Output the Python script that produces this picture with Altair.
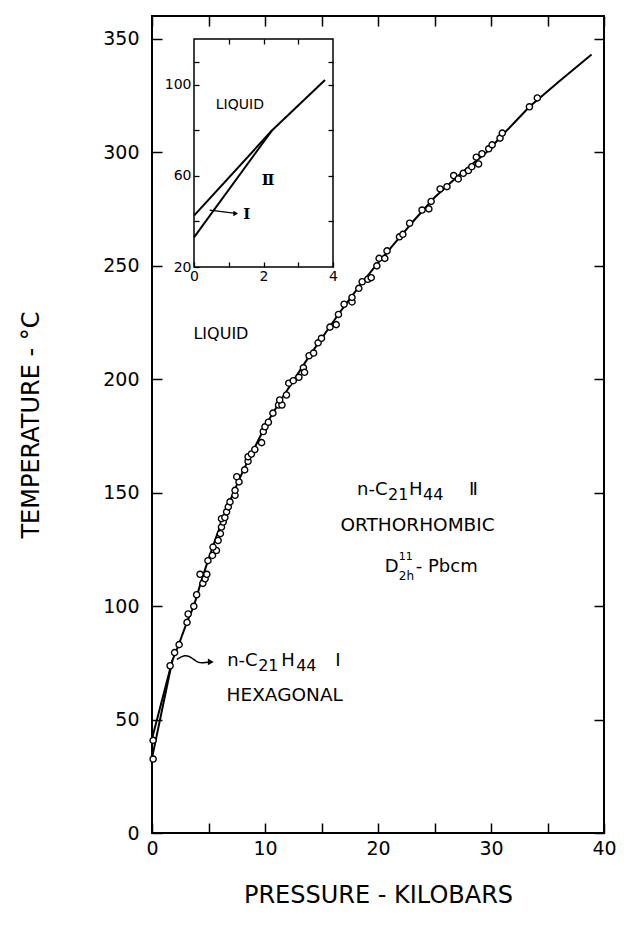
import altair as alt
import pandas as pd

# ---------------- data ----------------
# observed melting points (pressure kbar, temperature C)
pt_p = [0.1, 0.1, 1.6, 2.0, 2.4, 3.1, 3.2, 3.7, 3.95, 4.5, 4.7, 4.25, 4.85, 4.95,
        5.35, 5.7, 5.4, 5.85, 6.05, 6.15, 6.3, 6.15, 6.45, 6.6, 6.75, 6.9, 7.35, 7.35, 7.7, 7.5,
        8.2, 8.5, 8.5, 8.8, 9.1, 9.7, 9.85, 10.0, 10.3,
        10.7, 11.2, 11.5, 11.3, 11.9, 12.1, 12.5, 13.0, 13.4, 13.5, 13.9, 14.3, 14.7, 15.0, 15.75, 16.3,
        16.5, 17.0, 17.7, 17.7, 18.3, 18.6, 19.1, 19.4, 19.9, 20.1, 20.6, 20.8, 21.9, 22.2, 22.8,
        23.9, 24.5, 24.7, 25.5, 26.1, 26.7, 27.1, 27.55, 28.0, 28.3, 28.9, 28.7, 29.2, 29.8, 30.1,
        30.8, 31.0, 33.4, 34.1]
pt_t = [40.8, 32.6, 73.7, 79.5, 83.0, 92.8, 96.5, 99.9, 105.0, 110.0, 112.0, 114.0, 114.0, 120.0,
        122.3, 124.5, 126.0, 128.9, 131.9, 134.8, 137.0, 138.5, 139.0, 141.5, 143.7, 145.9, 148.8, 151.0, 154.7, 157.0,
        160.0, 163.8, 165.8, 167.0, 169.0, 172.0, 176.9, 179.0, 181.0,
        185.0, 188.6, 188.6, 190.8, 193.0, 198.2, 199.3, 200.8, 205.0, 203.0, 210.3, 211.5, 216.0, 218.0, 222.9, 224.0,
        228.5, 233.0, 234.0, 236.0, 240.0, 242.9, 244.0, 244.7, 249.9, 253.2, 253.2, 256.5, 262.7, 263.8, 268.7,
        274.5, 275.0, 278.3, 283.8, 284.8, 289.7, 288.2, 290.7, 291.9, 293.6, 294.8, 297.8, 299.3, 301.5, 303.2,
        306.2, 308.4, 320.0, 323.9]

# phase boundaries (main plot)
melt_p = [1.8, 2.4, 3.1, 3.7, 4.3, 4.95, 5.65, 6.4, 7.2, 8.1, 9.1, 10.1, 11.3, 12.6, 13.9, 15.3,
          16.7, 18.2, 19.8, 21.5, 23.2, 25.0, 27.2, 29.6, 31.1, 33.4, 36.1, 38.9]
melt_t = [76.0, 83.5, 93.0, 100.0, 110.0, 120.0, 130.0, 140.0, 150.0, 160.0, 170.0, 180.0, 190.0, 200.0, 210.0, 220.0,
          230.0, 240.0, 250.0, 260.0, 270.0, 280.0, 290.0, 300.0, 308.0, 320.0, 331.5, 343.0]
liq_i_p = [0.0, 1.8]
liq_i_t = [41.5, 76.0]
i_ii_p = [0.0, 1.8]
i_ii_t = [33.0, 76.0]
arrow_p = [2.2, 2.9, 3.5, 4.1, 4.8, 5.2]
arrow_t = [76.5, 78.6, 77.5, 74.6, 75.2, 75.4]

# inset (low pressure detail)
inset_x_dom = [0, 4]
inset_y_dom = [20, 120]
in_liq_i_p = [0.0, 2.25]
in_liq_i_t = [42.5, 80.0]
in_i_ii_p = [0.0, 2.25]
in_i_ii_t = [33.0, 80.0]
in_melt_p = [2.25, 3.77]
in_melt_t = [80.0, 102.0]
in_arrow_p = [0.45, 1.2]
in_arrow_t = [44.9, 43.5]

# annotations (main): text pieces, anchor position (kbar, C)
ann_text = ["LIQUID",
            "n-C", "21", "H", "44", "\u2161",
            "ORTHORHOMBIC",
            "D", "11", "2h", "- Pbcm",
            "n-C", "21", "H", "44", "\u2160",
            "HEXAGONAL"]
ann_p = [6.1,
         18.15, 18.15, 18.15, 18.15, 18.15,
         23.5,
         20.6, 20.6, 20.6, 20.6,
         6.65, 6.65, 6.65, 6.65, 6.65,
         6.6]
ann_t = [220.0,
         151.0, 151.0, 151.0, 151.0, 151.0,
         135.6,
         117.3, 117.3, 117.3, 117.3,
         76.0, 76.0, 76.0, 76.0, 76.0,
         61.0]
# annotations (inset)
in_ann_text = ["LIQUID", "\u2161", "\u2160"]
in_ann_p = [1.32, 2.13, 1.42]
in_ann_t = [91.2, 58.0, 43.4]

# ---------------- layout ----------------
W, H = 452, 817
FONT = "DejaVu Sans"
main_x = alt.Scale(domain=[0, 40], nice=False, zero=False)
main_y = alt.Scale(domain=[0, 360], nice=False, zero=False)
in_x = alt.Scale(domain=inset_x_dom, range=[42, 181], nice=False, zero=False)
in_y = alt.Scale(domain=inset_y_dom, range=[251, 23], nice=False, zero=False)

pts = pd.DataFrame({"P": pt_p, "T": pt_t})


def lines_df(series):
    rows = []
    for name, ps, ts in series:
        for i, (p, t) in enumerate(zip(ps, ts)):
            rows.append({"s": name, "i": i, "P": p, "T": t})
    return pd.DataFrame(rows)


main_lines = lines_df([("melt", melt_p, melt_t), ("li", liq_i_p, liq_i_t), ("i2", i_ii_p, i_ii_t)])
inset_lines = lines_df([("melt", in_melt_p, in_melt_t), ("li", in_liq_i_p, in_liq_i_t),
                        ("i2", in_i_ii_p, in_i_ii_t)])


def X(sc, axis=None, field="P"):
    return alt.X(f"{field}:Q", scale=sc, axis=axis)


def Y(sc, axis=None, field="T"):
    return alt.Y(f"{field}:Q", scale=sc, axis=axis)


layers = []

# main boundary lines
layers.append(alt.Chart(main_lines).mark_line(color="black", strokeWidth=2).encode(
    x=X(main_x), y=Y(main_y), detail="s:N", order="i:Q"))
# arrow
layers.append(alt.Chart(pd.DataFrame({"P": arrow_p, "T": arrow_t, "i": range(len(arrow_p))}))
              .mark_line(color="black", strokeWidth=1.5, interpolate="basis")
              .encode(x=X(main_x), y=Y(main_y), order="i:Q"))
layers.append(alt.Chart(pd.DataFrame({"P": arrow_p[-1:], "T": arrow_t[-1:]}))
              .mark_point(shape="triangle-right", filled=True, color="black", size=45, opacity=1)
              .encode(x=X(main_x), y=Y(main_y)))
# data points
layers.append(alt.Chart(pts).mark_point(shape="circle", filled=True, fill="white", stroke="black",
                                        strokeWidth=1.4, size=38, opacity=1)
              .encode(x=X(main_x), y=Y(main_y)))

# main text annotations
ann_style = [
    dict(fontSize=16, align="center"),
    dict(fontSize=18, align="left"),
    dict(fontSize=16, align="left", dx=31, dy=5),
    dict(fontSize=18, align="left", dx=52),
    dict(fontSize=16, align="left", dx=66, dy=5),
    dict(fontSize=18, align="left", dx=112),
    dict(fontSize=18.5, align="center"),
    dict(fontSize=18, align="left"),
    dict(fontSize=11, align="left", dx=14, dy=-10),
    dict(fontSize=12, align="left", dx=14, dy=9),
    dict(fontSize=18, align="left", dx=31),
    dict(fontSize=18, align="left"),
    dict(fontSize=16, align="left", dx=31, dy=5),
    dict(fontSize=18, align="left", dx=54),
    dict(fontSize=16, align="left", dx=69, dy=5),
    dict(fontSize=18, align="left", dx=108),
    dict(fontSize=18.5, align="left"),
]
for txt, p, t, st in zip(ann_text, ann_p, ann_t, ann_style):
    layers.append(alt.Chart(pd.DataFrame({"P": [p], "T": [t], "label": [txt]}))
                  .mark_text(font=FONT, color="black", baseline="middle", **st)
                  .encode(x=X(main_x), y=Y(main_y), text="label:N"))

# main axes (ticks point inward)
tick_common = dict(tickColor="black", tickWidth=1.5, domain=False, grid=False, zindex=1,
                   labelColor="black", labelFont=FONT, titleFont=FONT, titleColor="black",
                   titleFontWeight="normal", labelFlush=False, labelOverlap=False)
ax_bottom = alt.Axis(orient="bottom", values=list(range(0, 41, 5)), offset=-10, tickSize=10,
                     labelExpr="datum.value % 10 === 0 ? datum.label : ''", labelFontSize=19,
                     labelPadding=6, title="PRESSURE - KILOBARS", titleFontSize=24, titlePadding=25,
                     format="d", **tick_common)
ax_left = alt.Axis(orient="left", values=list(range(0, 351, 50)), offset=-10, tickSize=10,
                   labelFontSize=19, labelPadding=13, title="TEMPERATURE - \u00b0C", titleFontSize=24,
                   titlePadding=59, format="d", **tick_common)
ax_top = alt.Axis(orient="top", values=list(range(0, 41, 5)), offset=-10, tickSize=10, labels=False,
                  title=None, **tick_common)
ax_right = alt.Axis(orient="right", values=list(range(0, 351, 50)), offset=-10, tickSize=10,
                    labels=False, title=None, **tick_common)
layers.append(alt.Chart(pts).mark_point(opacity=0).encode(x=X(main_x, ax_bottom), y=Y(main_y, ax_left)))
layers.append(alt.Chart(pts).mark_point(opacity=0).encode(x=X(main_x, ax_top), y=Y(main_y, ax_right)))

# ---------------- inset ----------------
in_common = dict(tickColor="black", tickWidth=1.3, domain=False, grid=False, zindex=1,
                 labelColor="black", labelFont=FONT, labelFontSize=14, title=None,
                 labelFlush=False, labelOverlap=False)
in_bottom = alt.Axis(orient="bottom", values=[0, 1, 2, 3, 4], offset=-(H - 251) - 5, tickSize=5,
                     labelExpr="datum.value % 2 === 0 ? datum.label : ''", labelPadding=2,
                     format="d", **in_common)
in_left = alt.Axis(orient="left", values=[20, 40, 60, 80, 100, 110], offset=-42 - 5, tickSize=5,
                   labelExpr="(datum.value - 20) % 40 === 0 ? datum.label : ''", labelPadding=3,
                   format="d", **in_common)
in_top = alt.Axis(orient="top", values=[1, 2, 3], offset=-23 - 5, tickSize=5, labels=False, **in_common)
in_right = alt.Axis(orient="right", values=[40, 60, 80, 100, 110], offset=-(W - 181) - 5, tickSize=5,
                    labels=False, **in_common)

frame = pd.DataFrame({"x0": [inset_x_dom[0]], "x1": [inset_x_dom[1]],
                      "y0": [inset_y_dom[0]], "y1": [inset_y_dom[1]]})
layers.append(alt.Chart(frame).mark_rect(fill="white", stroke="black", strokeWidth=1.5).encode(
    x=X(in_x, in_bottom, "x0"), x2="x1:Q", y=Y(in_y, in_left, "y0"), y2="y1:Q"))
layers.append(alt.Chart(inset_lines).mark_point(opacity=0).encode(
    x=X(in_x, in_top), y=Y(in_y, in_right)))
layers.append(alt.Chart(inset_lines).mark_line(color="black", strokeWidth=2).encode(
    x=X(in_x), y=Y(in_y), detail="s:N", order="i:Q"))
layers.append(alt.Chart(pd.DataFrame({"P": in_arrow_p, "T": in_arrow_t}))
              .mark_line(color="black", strokeWidth=1.3).encode(x=X(in_x), y=Y(in_y)))
layers.append(alt.Chart(pd.DataFrame({"P": in_arrow_p[-1:], "T": in_arrow_t[-1:]}))
              .mark_point(shape="triangle-right", filled=True, color="black", size=30, opacity=1)
              .encode(x=X(in_x), y=Y(in_y)))
in_style = [dict(fontSize=14, align="center"),
            dict(fontSize=15, align="center", font="DejaVu Serif", fontWeight="bold"),
            dict(fontSize=15, align="left", font="DejaVu Serif", fontWeight="bold")]
for txt, p, t, st in zip(in_ann_text, in_ann_p, in_ann_t, in_style):
    st = dict(st)
    f = st.pop("font", FONT)
    layers.append(alt.Chart(pd.DataFrame({"P": [p], "T": [t], "label": [txt]}))
                  .mark_text(font=f, color="black", baseline="middle", **st)
                  .encode(x=X(in_x), y=Y(in_y), text="label:N"))

chart = (alt.layer(*layers)
         .resolve_scale(x="independent", y="independent")
         .properties(width=W, height=H, autosize=alt.AutoSizeParams(type="none"),
                     padding={"left": 144, "top": 8, "right": 20, "bottom": 80},
                     background="white")
         .configure_view(stroke="black", strokeWidth=2))

chart.save("out.html", embed_options={"renderer": "svg", "actions": False})
